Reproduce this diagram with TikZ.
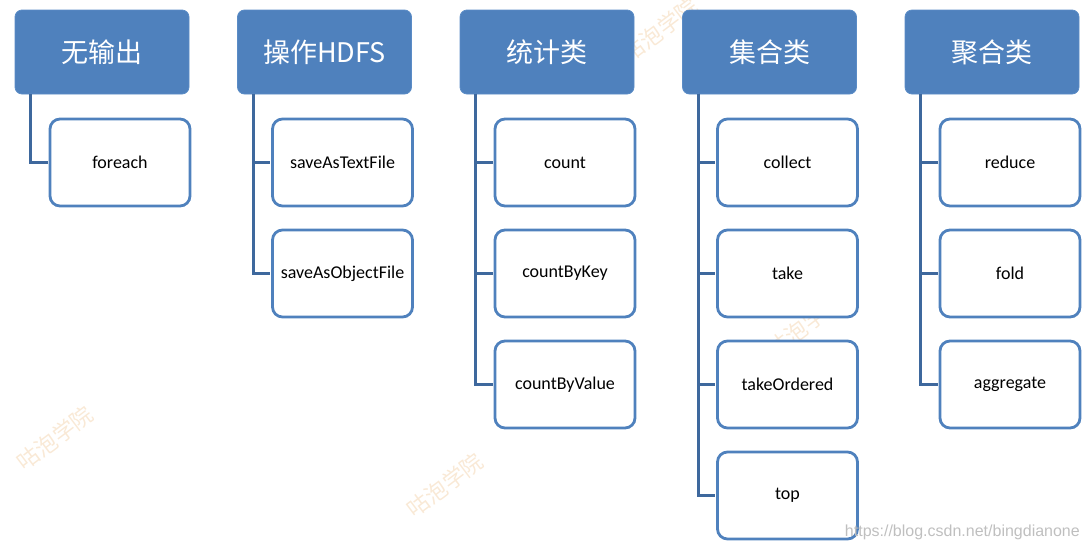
\documentclass[tikz,border=0pt]{standalone}
\usepackage{fontspec}
\setmainfont{Carlito}
\newfontfamily\cjk{Noto Sans CJK SC}
\newfontfamily\urlfont{Liberation Sans}
\definecolor{hdrblue}{HTML}{4F81BD}
\definecolor{hdrline}{HTML}{5B8CC6}
\definecolor{linkblue}{HTML}{3E689D}
\definecolor{wmorange}{HTML}{F9E9D6}
\tikzset{
  hdr/.style={draw=hdrline, line width=0.8pt, fill=hdrblue, rounded corners=7pt,
    minimum width=174pt, minimum height=84pt, text=white, inner sep=0pt,
    font=\cjk\fontsize{27}{32}\selectfont},
  leaf/.style={draw=hdrblue, line width=2.8pt, fill=white, rounded corners=10pt,
    minimum width=140pt, minimum height=87pt, inner sep=0pt,
    font=\fontsize{18}{21}\selectfont},
  link/.style={draw=linkblue, line width=3pt},
  wm/.style={text=wmorange, rotate=37, font=\cjk\fontsize{22}{26}\selectfont, inner sep=0pt}
}
\begin{document}
\begin{tikzpicture}[x=1pt,y=-1pt]
\useasboundingbox (0,0) rectangle (1089,550);
% watermarks
\node[wm] (w1) at (55,438) {咕泡学院};
\node[wm] (w2) at (445,485) {咕泡学院};
\node[wm] (w3) at (805,325) {咕泡学院};
\node[wm] (w4) at (660,30) {咕泡学院};
% headers
\node[hdr] (h1) at (102,52) {无输出};
\node[hdr] (h2) at (324.5,52) {操作HDFS};
\node[hdr] (h3) at (547,52) {统计类};
\node[hdr] (h4) at (769.5,52) {集合类};
\node[hdr] (h5) at (992,52) {聚合类};
% leaves
\node[leaf] (a1) at (120,162.5) {foreach};
\node[leaf] (b1) at (342.5,162.5) {saveAsTextFile};
\node[leaf] (b2) at (342.5,273.5) {saveAsObjectFile};
\node[leaf] (c1) at (565,162.5) {count};
\node[leaf] (c2) at (565,273.5) {countByKey};
\node[leaf] (c3) at (565,384.5) {countByValue};
\node[leaf] (d1) at (787.5,162.5) {collect};
\node[leaf] (d2) at (787.5,273.5) {take};
\node[leaf] (d3) at (787.5,384.5) {takeOrdered};
\node[leaf] (d4) at (787.5,495.5) {top};
\node[leaf] (e1) at (1010,162.5) {reduce};
\node[leaf] (e2) at (1010,273.5) {fold};
\node[leaf] (e3) at (1010,384.5) {aggregate};
% connectors
\foreach \h/\c in {h1/a1,h2/b1,h2/b2,h3/c1,h3/c2,h3/c3,h4/d1,h4/d2,h4/d3,h4/d4,h5/e1,h5/e2,h5/e3}{
  \draw[link] ([xshift=16pt,yshift=0.5pt]\h.south west) |- ([xshift=-1pt]\c.west);
}
% url watermark
\node[text=black!25, font=\urlfont\fontsize{16}{18}\selectfont, anchor=east, inner sep=0pt] (url) at (1080,532) {https://blog.csdn.net/bingdianone};
\end{tikzpicture}
\end{document}
